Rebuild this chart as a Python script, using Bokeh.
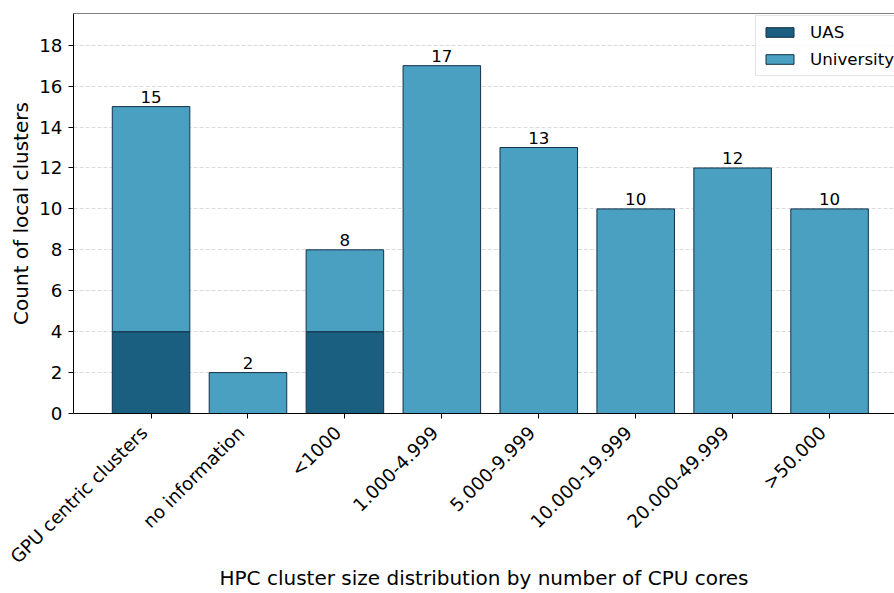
import math
from bokeh.plotting import figure
from bokeh.models import (ColumnDataSource, FixedTicker, Legend, LegendItem, Span,
                          LinearAxis)
from bokeh.core.properties import value
from bokeh.embed import file_html
from bokeh.resources import INLINE

categories = ["GPU centric clusters", "no information", "<1000", "1.000-4.999",
              "5.000-9.999", "10.000-19.999", "20.000-49.999", ">50.000"]
uas = [4, 0, 4, 0, 0, 0, 0, 0]
university = [11, 2, 4, 17, 13, 10, 12, 10]
y_ticks = [0, 2, 4, 6, 8, 10, 12, 14, 16, 18]

FONT = "DejaVu Sans"
UAS_COLOR = "#1a5f80"
UNI_COLOR = "#4aa0c0"
EDGE = "#13304a"
LABEL_SHIFT = 0.072  # visual nudge so rotated labels end at the tick

xs = list(range(len(categories)))
totals = [a + b for a, b in zip(uas, university)]
src = ColumnDataSource(dict(
    x=xs, uas=uas, uni_top=totals, total=totals,
    label=[str(t) for t in totals],
))

ymax = max(totals) * 1.15

p = figure(width=894, height=593, output_backend="svg", toolbar_location=None,
           x_range=(-0.8, 7.67), y_range=(0, ymax),
           min_border_left=73, min_border_right=0, min_border_top=13,
           min_border_bottom=180)
p.outline_line_color = None
p.background_fill_color = "white"
p.border_fill_color = "white"

r_uas = p.vbar(x="x", top="uas", bottom=0, width=0.8, source=src,
               fill_color=UAS_COLOR, line_color=EDGE, line_width=1)
r_uni = p.vbar(x="x", top="uni_top", bottom="uas", width=0.8, source=src,
               fill_color=UNI_COLOR, line_color=EDGE, line_width=1)

p.text(x="x", y="total", text="label", source=src, text_align="center",
       text_baseline="bottom", y_offset=-4, text_font_size="16.7px",
       text_font=value(FONT), text_color="black")

# top spine
p.add_layout(Span(location=ymax, dimension="width", line_color="black", line_width=1))

# grid
p.xgrid.grid_line_color = None
p.ygrid.ticker = FixedTicker(ticks=y_ticks)
p.ygrid.grid_line_color = "#cccccc"
p.ygrid.grid_line_alpha = 0.7
p.ygrid.grid_line_dash = "4 2"
p.ygrid.grid_line_width = 1

# main x axis: line + ticks only
p.xaxis.ticker = FixedTicker(ticks=xs)
p.xaxis.major_label_overrides = {i: "" for i in xs}
p.xaxis.major_label_text_font_size = "0px"
p.xaxis.major_label_standoff = 0
p.xaxis.axis_line_color = "black"
p.xaxis.major_tick_line_color = "black"
p.xaxis.major_tick_in = 0
p.xaxis.major_tick_out = 5
p.xaxis.minor_tick_line_color = None

# label axis: rotated category names + title
lab_pos = [round(x - LABEL_SHIFT, 3) for x in xs]
lab_axis = LinearAxis(ticker=FixedTicker(ticks=lab_pos),
                      major_label_overrides={lp: c for lp, c in zip(lab_pos, categories)},
                      major_label_orientation=math.pi / 4)
lab_axis.axis_line_color = None
lab_axis.major_tick_line_color = None
lab_axis.minor_tick_line_color = None
lab_axis.major_tick_in = 0
lab_axis.major_tick_out = 0
lab_axis.major_label_standoff = 11
lab_axis.major_label_text_font = FONT
lab_axis.major_label_text_font_size = "18.3px"
lab_axis.major_label_text_color = "black"
lab_axis.axis_label = "HPC cluster size distribution by number of CPU cores"
lab_axis.axis_label_text_font = FONT
lab_axis.axis_label_text_font_size = "20px"
lab_axis.axis_label_text_font_style = "normal"
lab_axis.axis_label_text_color = "black"
lab_axis.axis_label_standoff = -12
p.add_layout(lab_axis, "below")

# y axis
p.yaxis.ticker = FixedTicker(ticks=y_ticks)
ya = p.yaxis[0]
ya.major_label_text_font = FONT
ya.major_label_text_font_size = "18.3px"
ya.major_label_text_color = "black"
ya.axis_label = "Count of local clusters"
ya.axis_label_text_font = FONT
ya.axis_label_text_font_size = "20px"
ya.axis_label_text_font_style = "normal"
ya.axis_label_text_color = "black"
ya.axis_line_color = "black"
ya.major_tick_line_color = "black"
ya.major_tick_in = 0
ya.major_tick_out = 5
ya.minor_tick_line_color = None
ya.major_label_standoff = 6
ya.axis_label_standoff = 3

legend = Legend(items=[LegendItem(label="UAS", renderers=[r_uas]),
                       LegendItem(label="University", renderers=[r_uni])],
                location=(682, 337))
legend.label_text_font = FONT
legend.label_text_font_size = "16.7px"
legend.label_text_color = "black"
legend.glyph_width = 35
legend.glyph_height = 12
legend.label_height = 17
legend.label_standoff = 13
legend.spacing = 7
legend.padding = 6
legend.margin = 0
legend.border_line_color = "#cccccc"
legend.background_fill_alpha = 0.8
p.add_layout(legend)

open("out.html", "w").write(file_html(p, INLINE))
